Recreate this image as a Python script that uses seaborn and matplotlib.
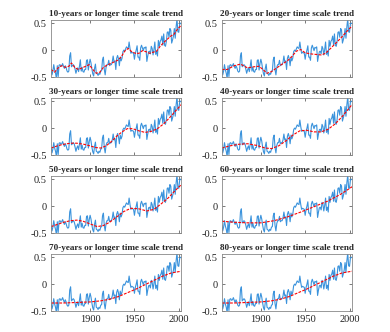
import matplotlib
matplotlib.use("Agg")
import matplotlib.pyplot as plt
import numpy as np
import seaborn as sns

# annual global temperature anomaly, 1856-2003
years = np.arange(1856, 2004)
anomaly = [
    -0.36, -0.46, -0.39, -0.27, -0.37, -0.43, -0.53, -0.29, -0.49, -0.28,
    -0.27, -0.30, -0.29, -0.25, -0.30, -0.34, -0.29, -0.33, -0.39, -0.41,
    -0.39, -0.11, -0.05, -0.31, -0.29, -0.27, -0.29, -0.35, -0.43, -0.37,
    -0.33, -0.40, -0.30, -0.18, -0.39, -0.32, -0.40, -0.41, -0.36, -0.36,
    -0.19, -0.18, -0.37, -0.25, -0.17, -0.24, -0.35, -0.44, -0.48, -0.34,
    -0.26, -0.43, -0.44, -0.47, -0.43, -0.45, -0.39, -0.38, -0.18, -0.13,
    -0.36, -0.46, -0.32, -0.27, -0.27, -0.19, -0.29, -0.27, -0.27, -0.22,
    -0.11, -0.22, -0.20, -0.36, -0.15, -0.10, -0.16, -0.29, -0.13, -0.20,
    -0.15, -0.03, 0.00, -0.02, 0.02, 0.06, 0.04, 0.03, 0.15, 0.03,
    -0.06, -0.04, -0.05, -0.06, -0.17, -0.06, 0.00, 0.08, -0.13, -0.13,
    -0.19, 0.04, 0.09, 0.04, -0.01, 0.05, 0.04, 0.06, -0.21, -0.11,
    -0.03, -0.02, -0.07, 0.07, 0.03, -0.09, 0.01, 0.15, -0.08, -0.02,
    -0.11, 0.18, 0.07, 0.16, 0.19, 0.26, 0.09, 0.30, 0.09, 0.07,
    0.16, 0.33, 0.34, 0.24, 0.40, 0.37, 0.13, 0.19, 0.26, 0.40,
    0.22, 0.43, 0.58, 0.34, 0.33, 0.48, 0.50, 0.49,
]

# trend curves
t10_yr = [1856, 1860, 1864, 1868, 1872, 1876, 1879, 1883, 1887, 1891, 1895, 1899,
          1903, 1907, 1911, 1915, 1919, 1923, 1927, 1931, 1935, 1939, 1943, 1947,
          1951, 1955, 1959, 1963, 1967, 1971, 1975, 1979, 1983, 1987, 1991, 1995,
          1999, 2003]
t10 = [-0.36, -0.41, -0.33, -0.29, -0.32, -0.30, -0.24, -0.33, -0.36, -0.33, -0.30, -0.27,
       -0.36, -0.43, -0.41, -0.32, -0.28, -0.25, -0.22, -0.19, -0.13, -0.02, 0.03, -0.03,
       -0.06, -0.06, -0.01, -0.03, -0.06, -0.04, -0.02, 0.07, 0.14, 0.20, 0.26, 0.30,
       0.40, 0.46]

t20_yr = [1856, 1862, 1870, 1877, 1885, 1892, 1898, 1903, 1907, 1912, 1918, 1924,
          1930, 1935, 1940, 1945, 1950, 1956, 1962, 1968, 1973, 1978, 1984, 1990,
          1996, 2003]
t20 = [-0.36, -0.36, -0.29, -0.26, -0.33, -0.31, -0.30, -0.37, -0.43, -0.40, -0.33, -0.26,
       -0.20, -0.12, -0.02, 0.01, -0.05, -0.07, -0.08, -0.09, -0.06, 0.02, 0.12, 0.22,
       0.33, 0.45]

t30_yr = [1856, 1863, 1870, 1878, 1885, 1893, 1900, 1906, 1912, 1918, 1924, 1930,
          1936, 1942, 1948, 1955, 1962, 1969, 1976, 1983, 1990, 1997, 2003]
t30 = [-0.37, -0.33, -0.30, -0.28, -0.28, -0.30, -0.33, -0.36, -0.37, -0.33, -0.25, -0.15,
       -0.07, -0.01, -0.01, -0.05, -0.08, -0.06, -0.01, 0.08, 0.20, 0.33, 0.44]

t40_yr = [1856, 1865, 1875, 1885, 1895, 1905, 1912, 1920, 1928, 1936, 1944, 1952,
          1960, 1968, 1976, 1984, 1992, 2003]
t40 = [-0.37, -0.33, -0.30, -0.29, -0.32, -0.37, -0.38, -0.33, -0.24, -0.13, -0.05, -0.04,
       -0.07, -0.07, -0.02, 0.08, 0.22, 0.44]

t50_yr = [1856, 1863, 1870, 1878, 1885, 1892, 1900, 1908, 1915, 1922, 1930, 1938,
          1946, 1955, 1964, 1972, 1980, 1988, 1996, 2003]
t50 = [-0.38, -0.34, -0.30, -0.27, -0.26, -0.28, -0.33, -0.38, -0.36, -0.30, -0.20, -0.10,
       -0.04, -0.05, -0.09, -0.06, 0.04, 0.15, 0.29, 0.40]

t60_yr = [1856, 1870, 1885, 1900, 1915, 1930, 1945, 1960, 1975, 1990, 2003]
t60 = [-0.28, -0.30, -0.31, -0.31, -0.27, -0.20, -0.11, -0.01, 0.09, 0.22, 0.36]

t70_yr = [1856, 1870, 1885, 1900, 1912, 1922, 1932, 1942, 1952, 1962, 1972, 1982,
          1992, 2003]
t70 = [-0.35, -0.35, -0.34, -0.33, -0.31, -0.28, -0.23, -0.16, -0.09, -0.01, 0.07, 0.15,
       0.21, 0.24]

t80_yr = [1856, 1870, 1885, 1900, 1912, 1922, 1932, 1942, 1952, 1962, 1972, 1982,
          1992, 2003]
t80 = [-0.35, -0.35, -0.34, -0.33, -0.31, -0.28, -0.23, -0.16, -0.09, -0.01, 0.07, 0.15,
       0.21, 0.24]

scales = [10, 20, 30, 40, 50, 60, 70, 80]
trend_years = [t10_yr, t20_yr, t30_yr, t40_yr, t50_yr, t60_yr, t70_yr, t80_yr]
trends = [t10, t20, t30, t40, t50, t60, t70, t80]

sns.set_style("ticks")
plt.rcParams["font.family"] = ["Liberation Serif", "DejaVu Serif"]

fig, axes = plt.subplots(4, 2, figsize=(3.9, 3.32), dpi=100)
plt.subplots_adjust(left=0.131, right=0.903, top=0.94, bottom=0.063,
                    wspace=0.31, hspace=0.366)

for i, ax in enumerate(axes.flat):
    sns.lineplot(x=years, y=anomaly, ax=ax, color="#3b93dc", lw=0.8)
    sns.lineplot(x=trend_years[i], y=trends[i], ax=ax, color="red", lw=0.8,
                 linestyle=(0, (2.5, 1.2)))
    ax.set_xlim(1856, 2003)
    ax.set_ylim(-0.5, 0.56)
    ax.set_xticks([1900, 1950, 2000])
    ax.set_yticks([-0.5, 0, 0.5])
    ax.set_yticklabels(["-0.5", "0", "0.5"])
    ax.tick_params(direction="in", length=2, width=0.5, top=True, right=True,
                   labelsize=7.5, pad=3, color="#444444", labelcolor="#222222")
    if i < 6:
        ax.set_xticklabels([])
    for s in ax.spines.values():
        s.set_linewidth(0.6)
        s.set_color("#888888")
    ax.set_xlabel("")
    ax.set_ylabel("")
    ax.set_title(f"{scales[i]}-years or longer time scale trend",
                 fontsize=6.6, fontweight="bold", pad=2.5)

fig.savefig("out.png", dpi=100)
